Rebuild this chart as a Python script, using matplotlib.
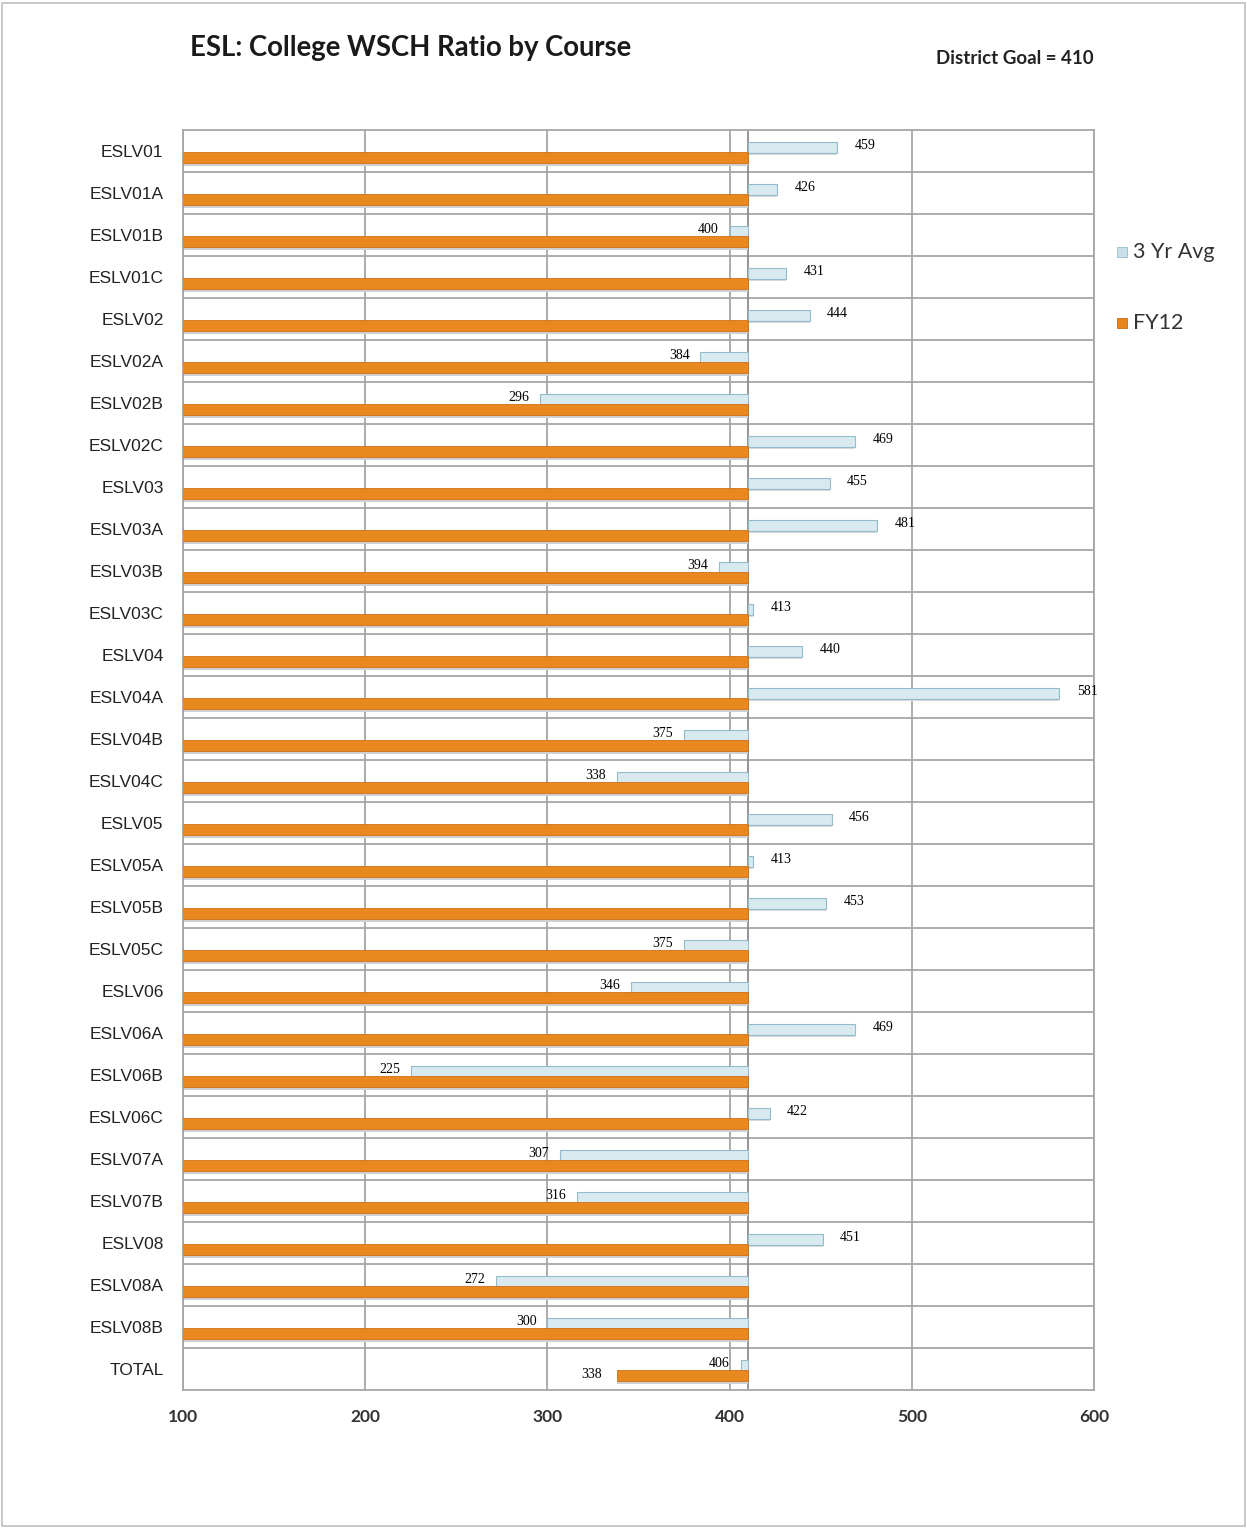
import matplotlib.pyplot as plt
from matplotlib.patches import Rectangle

courses = ['ESLV01', 'ESLV01A', 'ESLV01B', 'ESLV01C', 'ESLV02', 'ESLV02A', 'ESLV02B',
           'ESLV02C', 'ESLV03', 'ESLV03A', 'ESLV03B', 'ESLV03C', 'ESLV04', 'ESLV04A',
           'ESLV04B', 'ESLV04C', 'ESLV05', 'ESLV05A', 'ESLV05B', 'ESLV05C', 'ESLV06',
           'ESLV06A', 'ESLV06B', 'ESLV06C', 'ESLV07A', 'ESLV07B', 'ESLV08', 'ESLV08A',
           'ESLV08B', 'TOTAL']
avg_3yr = [459, 426, 400, 431, 444, 384, 296, 469, 455, 481, 394, 413, 440, 581,
           375, 338, 456, 413, 453, 375, 346, 469, 225, 422, 307, 316, 451, 272,
           300, 406]
# FY12 only has a figure for the total row; blanks are plotted as zero
fy12 = [0] * 29 + [338]
goal = 410
xticks = [100, 200, 300, 400, 500, 600]

fig = plt.figure(figsize=(12.47, 15.28), dpi=100)
ax = fig.add_axes([0.1468, 0.0903, 0.7305, 0.8246])

y = list(range(len(courses)))
blue_off, orange_off, h = -0.08, 0.16, 0.26

# bars hang off the goal line, Excel style (axis crosses at 410)
ax.barh([i + blue_off + 0.05 for i in y], [v - goal for v in avg_3yr], left=goal,
        height=h, color='#d9d9d9', zorder=2)
ax.barh([i + blue_off for i in y], [v - goal for v in avg_3yr], left=goal,
        height=h, color='#d8e9f0', edgecolor='#95bccb', linewidth=0.8, zorder=3)
ax.barh([i + orange_off + 0.06 for i in y], [v - goal for v in fy12], left=goal,
        height=h, color='#d0d0d0', zorder=2)
ax.barh([i + orange_off for i in y], [v - goal for v in fy12], left=goal,
        height=h, color='#ea8820', edgecolor='#cf7016', linewidth=0.6, zorder=3)

# value labels
for i, v in enumerate(avg_3yr):
    if v >= goal:
        ax.text(v + 9.5, i - 0.14, str(v), ha='left', va='center',
                fontsize=10, family='Liberation Serif', zorder=5)
    else:
        ax.text(v - 6, i - 0.14, str(v), ha='right', va='center',
                fontsize=10, family='Liberation Serif', zorder=5)
for i, v in enumerate(fy12):
    if v >= xticks[0]:
        ax.text(v - 8, i + 0.12, str(v), ha='right', va='center',
                fontsize=10, family='Liberation Serif', zorder=5)

ax.set_xlim(100, 600)
ax.set_ylim(len(courses) - 0.5, -0.5)
ax.set_xticks(xticks)
ax.set_xticklabels([str(t) for t in xticks], fontsize=12.5, color='#333333',
                   family='Lato', fontweight='bold')
ax.set_yticks(y)
ax.set_yticklabels(courses, fontsize=12.5, color='#222222', family='Liberation Sans')
ax.tick_params(axis='both', length=0)
ax.tick_params(axis='y', pad=14)
ax.tick_params(axis='x', pad=14)

for xv in xticks:
    ax.axvline(xv, color='#a6a6a6', lw=1.3, zorder=1)
for i in range(len(courses) - 1):
    ax.axhline(i + 0.5, color='#a6a6a6', lw=1.3, zorder=1)
ax.axvline(goal, color='#8c8c8c', lw=1.3, zorder=1)
for s in ax.spines.values():
    s.set_color('#a6a6a6')
    s.set_linewidth(1.3)

fig.text(190 / 1247, 1 - 48 / 1528, 'ESL: College WSCH Ratio by Course',
         fontsize=19.8, fontweight='bold', family='Lato', color='#1a1a1a', va='center')
fig.text(1094 / 1247, 1 - 58 / 1528, 'District Goal = 410', fontsize=13.5,
         fontweight='bold', family='Lato', color='#222222', ha='right', va='center')

# legend
fig.patches.append(Rectangle((1117 / 1247, 1 - 257 / 1528), 10 / 1247, 10 / 1528,
                             transform=fig.transFigure, facecolor='#c9dfe9',
                             edgecolor='#95bccb', lw=0.6))
fig.text(1133 / 1247, 1 - 252 / 1528, '3 Yr Avg', fontsize=15.5, family='Lato',
         color='#333333', va='center')
fig.patches.append(Rectangle((1117 / 1247, 1 - 328 / 1528), 10 / 1247, 10 / 1528,
                             transform=fig.transFigure, facecolor='#e8841c',
                             edgecolor='#c96a12', lw=0.6))
fig.text(1133 / 1247, 1 - 323 / 1528, 'FY12', fontsize=15.5, family='Lato',
         color='#333333', va='center')

# outer frame
fig.patches.append(Rectangle((0.002, 0.001), 0.996, 0.997, transform=fig.transFigure,
                             fill=False, edgecolor='#bfbfbf', lw=1.2))

fig.savefig('out.png', dpi=100)
